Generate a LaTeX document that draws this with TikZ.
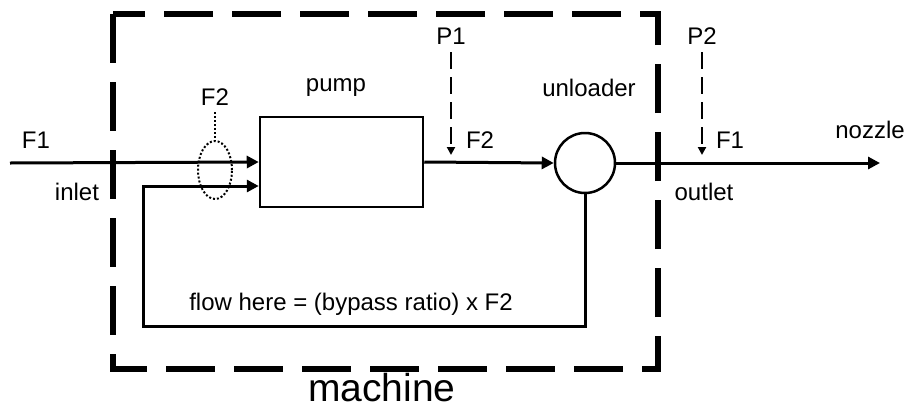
\documentclass[tikz,border=0pt]{standalone}
\usepackage{fontspec}
\setmainfont{Liberation Sans}
\usepackage{tikz}
\usetikzlibrary{shapes.geometric, arrows.meta, positioning}
\definecolor{InkBlack}{RGB}{0, 0, 0}

\tikzset{
  lbl/.style={font=\fontsize{24}{28}\selectfont, text=InkBlack, inner sep=0pt},
  pipe/.style={draw=InkBlack, line width=3pt},
  flow/.style={pipe, -{Triangle[length=12pt, width=12pt]}},
  sense/.style={draw=InkBlack, line width=2pt, dash pattern=on 17pt off 8pt, -{Triangle[length=8pt, width=8pt]}},
  boundary/.style={draw=InkBlack, line width=5.5pt, dash pattern=on 49pt off 19pt}
}

\begin{document}
\begin{tikzpicture}[x=1pt, y=-1pt]
    \useasboundingbox (0,0) rectangle (910,410);

    % machine boundary
    \coordinate (bTL) at (113,14);
    \coordinate (bBL) at (113,369);
    \coordinate (bBR) at (658,369);
    \coordinate (bTR) at (658,14);
    \draw[boundary] (bTL) -- (bBL) -- (bBR) -- (bTR) -- cycle;

    % components
    \node[draw=InkBlack, line width=2.5pt, minimum width=163pt, minimum height=90pt, inner sep=0pt] (pump) at (341.5,162) {};
    \node[circle, draw=InkBlack, line width=2.5pt, minimum size=60pt, inner sep=0pt] (unloader) at (585,163) {};
    \node[ellipse, draw=InkBlack, line width=2pt, dash pattern=on 2pt off 2pt,
          minimum width=34pt, minimum height=58pt, inner sep=0pt] (mix) at (215,170) {};

    % main flow
    \coordinate (inEnd) at (10,163);
    \coordinate (nozzleEnd) at (880,163);
    \draw[flow] (inEnd) -- (pump.west);
    \draw[flow] (pump.east) -- (unloader.west);
    \draw[flow] (unloader.east) -- (nozzleEnd);

    % bypass loop
    \coordinate (loopBR) at (585,326);
    \coordinate (loopBL) at (143,326);
    \coordinate (loopTL) at (143,186);
    \draw[flow] (unloader.south) -- (loopBR) -- (loopBL) -- (loopTL) -- (loopTL -| pump.west);

    % pressure taps
    \coordinate (p1Top) at (451,52);
    \coordinate (p1Tip) at (451,155);
    \coordinate (p2Top) at (702,52);
    \coordinate (p2Tip) at (702,155);
    \draw[sense] (p1Top) -- (p1Tip);
    \draw[sense] (p2Top) -- (p2Tip);
    \coordinate (mixTop) at (215,112);
    \draw[InkBlack, line width=2pt, dash pattern=on 2pt off 2pt] (mixTop) -- (mix.north);

    % labels
    \node[lbl] (lblF1in) at (36,140) {F1};
    \node[lbl] (lblInlet) at (77,192) {inlet};
    \node[lbl] (lblF2mix) at (215,97) {F2};
    \node[lbl] (lblPump) at (336,88) {pump};
    \node[lbl] (lblP1) at (451,36) {P1};
    \node[lbl] (lblF2) at (480,140) {F2};
    \node[lbl] (lblUnloader) at (589,88) {unloader};
    \node[lbl] (lblP2) at (702,36) {P2};
    \node[lbl] (lblF1out) at (730,140) {F1};
    \node[lbl] (lblOutlet) at (704,192) {outlet};
    \node[lbl] (lblNozzle) at (870,130) {nozzle};
    \node[lbl] (lblBypass) at (351,304) {flow here = (bypass ratio) x F2};
    \node[lbl, font=\fontsize{39}{44}\selectfont] (lblMachine) at (382,388) {machine};
  \end{tikzpicture}
\end{document}
